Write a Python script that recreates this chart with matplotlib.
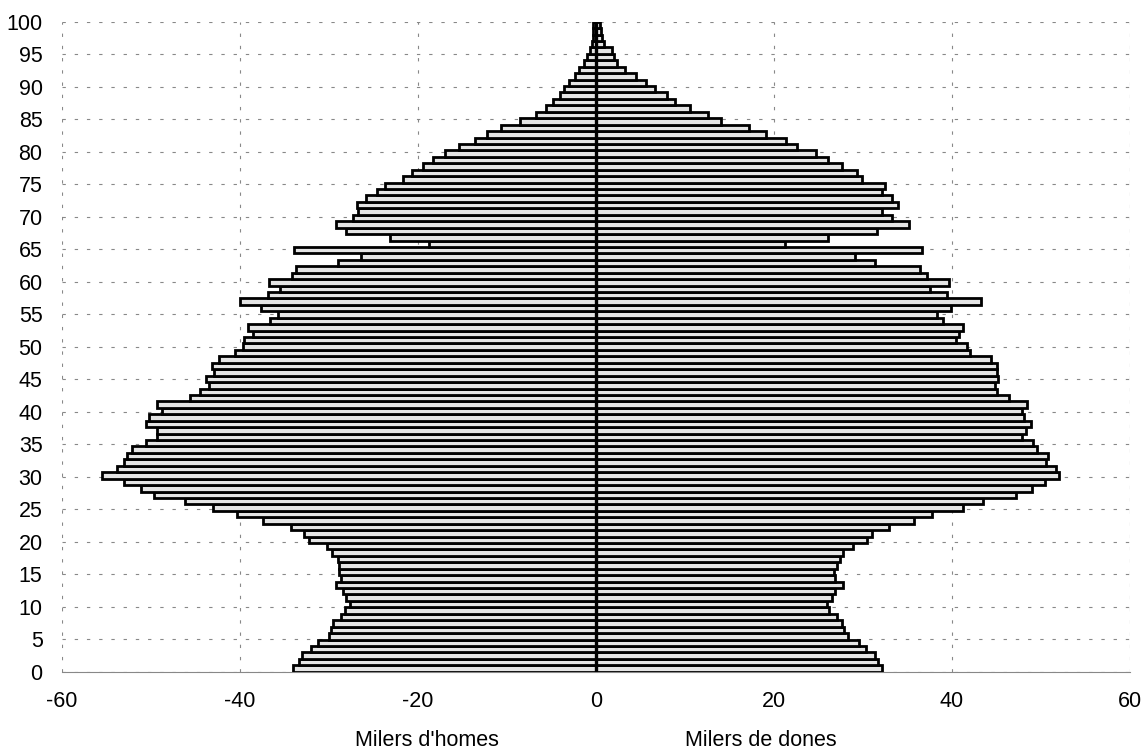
import numpy as np
import matplotlib
matplotlib.use("Agg")
import matplotlib.pyplot as plt

plt.rcParams['font.family'] = ['Liberation Sans', 'DejaVu Sans']

ages = list(range(101))
men = [34.0, 33.4, 33.0, 32.0, 31.2, 30.0, 29.8, 29.5, 28.7, 28.2,
       27.6, 28.1, 28.4, 29.2, 28.6, 28.9, 28.9, 29.0, 29.7, 30.2,
       32.2, 32.8, 34.3, 37.4, 40.3, 43.0, 46.2, 49.7, 51.1, 53.0,
       55.5, 53.8, 53.0, 52.7, 52.1, 50.6, 49.3, 49.3, 50.6, 50.2,
       48.8, 49.3, 45.6, 44.5, 43.5, 43.8, 42.9, 43.2, 42.4, 40.6,
       39.7, 39.5, 38.5, 39.1, 36.6, 35.7, 37.6, 40.0, 36.9, 35.5,
       36.7, 34.2, 33.7, 29.0, 26.4, 33.9, 18.8, 23.2, 28.1, 29.2,
       27.3, 26.7, 26.8, 25.8, 24.6, 23.7, 21.7, 20.7, 19.4, 18.3,
       17.0, 15.4, 13.6, 12.3, 10.7, 8.5, 6.7, 5.6, 4.8, 4.1,
       3.6, 3.0, 2.4, 1.9, 1.3, 1.0, 0.7, 0.4, 0.3, 0.3, 0.3]
women = [32.1, 31.7, 31.4, 30.3, 29.5, 28.3, 27.9, 27.6, 27.1, 26.2,
         26.0, 26.5, 26.9, 27.8, 26.8, 26.7, 27.1, 27.4, 27.8, 28.9,
         30.5, 31.0, 32.9, 35.7, 37.8, 41.2, 43.5, 47.2, 49.0, 50.4,
         52.0, 51.7, 50.6, 50.8, 49.6, 49.1, 47.9, 48.3, 48.9, 48.1,
         47.9, 48.4, 46.4, 45.0, 44.8, 45.2, 45.0, 45.0, 44.4, 42.0,
         41.7, 40.5, 40.8, 41.2, 39.0, 38.3, 39.9, 43.3, 39.4, 37.5,
         39.7, 37.2, 36.4, 31.3, 29.1, 36.6, 21.2, 26.1, 31.6, 35.2,
         33.3, 32.1, 33.9, 33.3, 32.1, 32.5, 29.9, 29.3, 27.6, 26.1,
         24.7, 22.6, 21.3, 19.1, 17.2, 14.1, 12.6, 10.6, 8.9, 8.0,
         6.6, 5.6, 4.5, 3.3, 2.4, 2.0, 1.8, 0.9, 0.7, 0.6, 0.5]
x_ticks = [-60, -40, -20, 0, 20, 40, 60]
y_ticks = list(range(0, 101, 5))
label_men = "Milers d'homes"
label_women = "Milers de dones"

fig = plt.figure(figsize=(11.45, 7.52), dpi=100)
ax = fig.add_axes([62 / 1145, 1 - 671.7 / 752, 1068 / 1145, 650 / 752])

band = 100 / len(ages)
ypos = (np.array(ages) + 0.5) * band
ax.barh(ypos, -np.array(men), height=band, color='#e4e4e4',
        edgecolor='black', linewidth=2.0, zorder=3)
ax.barh(ypos, np.array(women), height=band, color='#e4e4e4',
        edgecolor='black', linewidth=2.0, zorder=3)
ax.axvline(0, ymin=0, ymax=1, color='black', linewidth=2.4, zorder=4)

ax.set_xlim(-60, 60)
ax.set_ylim(0, 100)
ax.set_xticks(x_ticks)
ax.set_xticklabels([str(v) for v in x_ticks])
ax.set_yticks(y_ticks)
ax.set_yticklabels([str(v) for v in y_ticks])
ax.tick_params(axis='both', length=0, labelsize=15.5)
ax.tick_params(axis='x', pad=14)
ax.tick_params(axis='y', pad=14)
ax.grid(True, color='#888888', linestyle=(0, (3, 8)), linewidth=0.8, zorder=0)
for s in ['top', 'right', 'left']:
    ax.spines[s].set_visible(False)
ax.spines['bottom'].set_color('#888888')
ax.spines['bottom'].set_linewidth(0.8)

fig.text(427 / 1145, 1 - 740 / 752, label_men, ha='center', va='center', fontsize=15.5)
fig.text(761 / 1145, 1 - 740 / 752, label_women, ha='center', va='center', fontsize=15.5)

fig.savefig('out.png', dpi=100, facecolor='white')
